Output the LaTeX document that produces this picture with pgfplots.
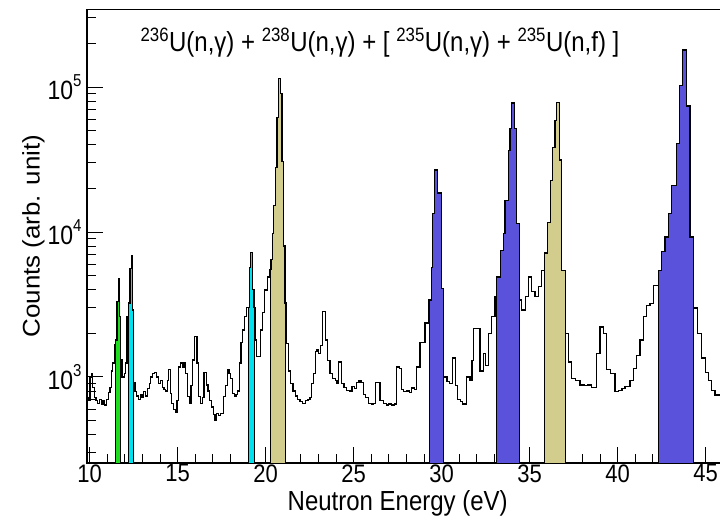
\documentclass[border=0pt]{standalone}
\usepackage{pgfplots}
\pgfplotsset{compat=1.18}
\usepackage{pgfplotstable}
\usepackage{graphicx}
\usepackage{fontspec}
\setmainfont{Liberation Sans}
\definecolor{cgreen}{RGB}{30,220,30}
\definecolor{ccyan}{RGB}{0,225,240}
\definecolor{colive}{RGB}{210,205,140}
\definecolor{cblue}{RGB}{90,82,218}
\newcommand{\vs}[1]{\scalebox{1}[1.15]{#1}}
\newcommand{\ysup}[1]{\vs{10\raisebox{11bp}{\fontsize{15bp}{15bp}\selectfont #1}}}

\pgfplotstableread{
E C
9.85 720
9.95 690
10.02 1000
10.1 1060
10.18 850
10.26 720
10.36 690
10.46 660
10.56 700
10.66 650
10.76 690
10.86 640
10.96 700
11.06 780
11.16 850
11.24 1100
11.32 1250
11.4 1660
11.48 1800
11.55 3300
11.62 4800
11.69 2600
11.76 1310
11.84 1000
11.96 1060
12.04 1250
12.12 2600
12.22 3240
12.29 5600
12.36 6900
12.43 2900
12.5 910
12.58 790
12.68 740
12.78 700
12.88 760
12.98 720
13.08 790
13.18 740
13.28 830
13.38 900
13.48 1000
13.58 1060
13.7 1080
13.82 1000
13.92 900
14.02 950
14.12 850
14.22 820
14.32 800
14.42 950
14.5 1120
14.58 770
14.66 660
14.76 600
14.86 570
14.96 690
15.06 1170
15.16 1250
15.26 1170
15.36 1250
15.46 1060
15.56 730
15.66 660
15.76 870
15.86 1310
15.96 1890
16.1 1250
16.2 730
16.3 660
16.4 720
16.5 1080
16.62 880
16.72 800
16.82 690
16.92 620
17.02 550
17.12 505
17.22 560
17.32 540
17.42 560
17.52 560
17.62 730
17.72 870
17.82 1120
17.92 1060
18.02 980
18.12 770
18.22 730
18.32 760
18.42 800
18.52 1250
18.6 1720
18.7 2110
18.82 2600
18.92 3000
19.0 3030
19.08 5700
19.16 7200
19.25 4000
19.34 3030
19.42 1800
19.5 1380
19.6 1380
19.7 2110
19.8 2800
19.95 3980
20.1 4900
20.2 5500
20.3 6500
20.38 9800
20.46 15300
20.55 28000
20.64 62000
20.74 115000
20.86 90000
20.93 30500
21.0 8000
21.1 3240
21.2 1700
21.3 1100
21.42 900
21.55 800
21.68 740
21.8 700
21.95 680
22.1 660
22.25 690
22.4 700
22.52 720
22.62 900
22.72 1050
22.82 1500
22.92 1550
23.02 1450
23.12 1650
23.22 2820
23.38 1800
23.52 1300
23.66 1050
23.8 980
23.95 950
24.05 900
24.15 1270
24.3 900
24.45 850
24.6 810
24.75 800
24.9 860
25.05 830
25.18 920
25.3 950
25.42 920
25.55 760
25.68 720
25.82 660
26.0 650
26.12 660
26.22 920
26.38 920
26.5 690
26.68 660
26.85 640
27.0 650
27.15 640
27.3 650
27.45 1170
27.6 1150
27.72 820
27.85 790
28.0 800
28.15 780
28.3 840
28.45 820
28.58 1170
28.77 1720
29.05 2360
29.28 3400
29.4 5700
29.5 13500
29.6 26800
29.75 18600
29.98 4100
30.09 1000
30.2 1000
30.3 930
30.45 900
30.62 1350
30.78 870
30.92 700
31.05 680
31.2 650
31.42 1000
31.61 950
31.72 1300
31.8 2150
31.99 2150
32.18 1100
32.37 1460
32.5 1200
32.65 2000
32.85 2600
33.03 3570
33.13 4900
33.32 7500
33.5 9800
33.6 16600
33.79 36600
33.88 52000
33.98 77600
34.13 52000
34.26 11500
34.41 3400
34.55 2900
34.74 3600
34.92 4900
35.12 3900
35.3 3600
35.49 4200
35.68 5460
35.85 7170
36.0 11700
36.16 22800
36.31 38500
36.44 59000
36.54 78500
36.68 31400
36.82 5460
37.05 2000
37.2 1270
37.39 980
37.58 950
37.86 880
38.1 870
38.3 880
38.5 850
38.81 1460
39.0 2210
39.18 2000
39.38 1120
39.57 1060
39.85 790
40.04 810
40.24 830
40.42 860
40.7 950
40.89 1150
41.08 1400
41.27 1800
41.46 2600
41.65 3100
41.84 3200
42.03 4300
42.31 5460
42.5 7300
42.69 9250
42.88 13500
43.07 21000
43.32 41000
43.5 103000
43.7 180000
43.92 74000
44.11 9250
44.3 2990
44.53 2000
44.78 1350
44.97 1070
45.15 950
45.34 810
45.53 750
46.5 750
}\spectrum

\begin{document}
\begin{tikzpicture}
\useasboundingbox (0,0) rectangle (720bp,518bp);
\begin{axis}[
  at={(87bp,55bp)}, anchor=south west,
  scale only axis, width=640bp, height=453.7bp,
  xmin=9.85, xmax=46.21,
  ymode=log, ymin=255, ymax=3.44e5,
  xtick={10,15,20,25,30,35,40,45},
  xticklabels={\vs{10},\vs{15},\vs{20},\vs{25},\vs{30},\vs{35},\vs{40},\vs{45}},
  minor x tick num=4,
  ytick={1000,10000,100000},
  yticklabels={\ysup{3},\ysup{4},\ysup{5}},
  minor ytick={300,400,500,600,700,800,900,2000,3000,4000,5000,6000,7000,8000,9000,20000,30000,40000,50000,60000,70000,80000,90000,200000,300000},
  xtick pos=lower, ytick pos=left,
  tick align=inside,
  major tick length=16bp, minor tick length=9bp,
  tick style={black, line width=1bp},
  axis line style={black, line width=1.3bp},
  xticklabel style={font=\fontsize{22bp}{24bp}\selectfont, yshift=2bp},
  yticklabel style={font=\fontsize{23bp}{26bp}\selectfont, xshift=-2bp},
  xlabel={\vs{Neutron Energy (eV)}},
  ylabel={\scalebox{1.08}[1]{Counts (arb. unit)}},
  xlabel style={font=\fontsize{24bp}{28bp}\selectfont, at={(axis description cs:0.4855,-0.1036)}, anchor=base},
  ylabel style={font=\fontsize{24bp}{28bp}\selectfont, at={(axis description cs:-0.0742,0.5)}, anchor=base, rotate=0},
  clip=true,
]
\addplot[const plot, fill=cgreen, draw=black, line width=1bp, restrict x to domain=11.47:11.77] table[x=E,y=C]{\spectrum} \closedcycle;
\addplot[const plot, fill=ccyan, draw=black, line width=1bp, restrict x to domain=12.21:12.51] table[x=E,y=C]{\spectrum} \closedcycle;
\addplot[const plot, fill=ccyan, draw=black, line width=1bp, restrict x to domain=18.99:19.35] table[x=E,y=C]{\spectrum} \closedcycle;
\addplot[const plot, fill=colive, draw=black, line width=1bp, restrict x to domain=20.29:21.11] table[x=E,y=C]{\spectrum} \closedcycle;
\addplot[const plot, fill=cblue, draw=black, line width=1bp, restrict x to domain=29.27:30.1] table[x=E,y=C]{\spectrum} \closedcycle;
\addplot[const plot, fill=cblue, draw=black, line width=1bp, restrict x to domain=33.12:34.42] table[x=E,y=C]{\spectrum} \closedcycle;
\addplot[const plot, fill=colive, draw=black, line width=1bp, restrict x to domain=35.84:37.06] table[x=E,y=C]{\spectrum} \closedcycle;
\addplot[const plot, fill=cblue, draw=black, line width=1bp, restrict x to domain=42.3:44.31] table[x=E,y=C]{\spectrum} \closedcycle;
\addplot[const plot, draw=black, line width=1.2bp] table[x=E,y=C]{\spectrum};
\end{axis}
\node[anchor=base, font=\fontsize{24bp}{28bp}\selectfont] at (380bp,466bp)
  {\vs{\textsuperscript{236}U(n,γ) + \textsuperscript{238}U(n,γ) + [ \textsuperscript{235}U(n,γ) + \textsuperscript{235}U(n,f) ]}};
\end{tikzpicture}
\end{document}
